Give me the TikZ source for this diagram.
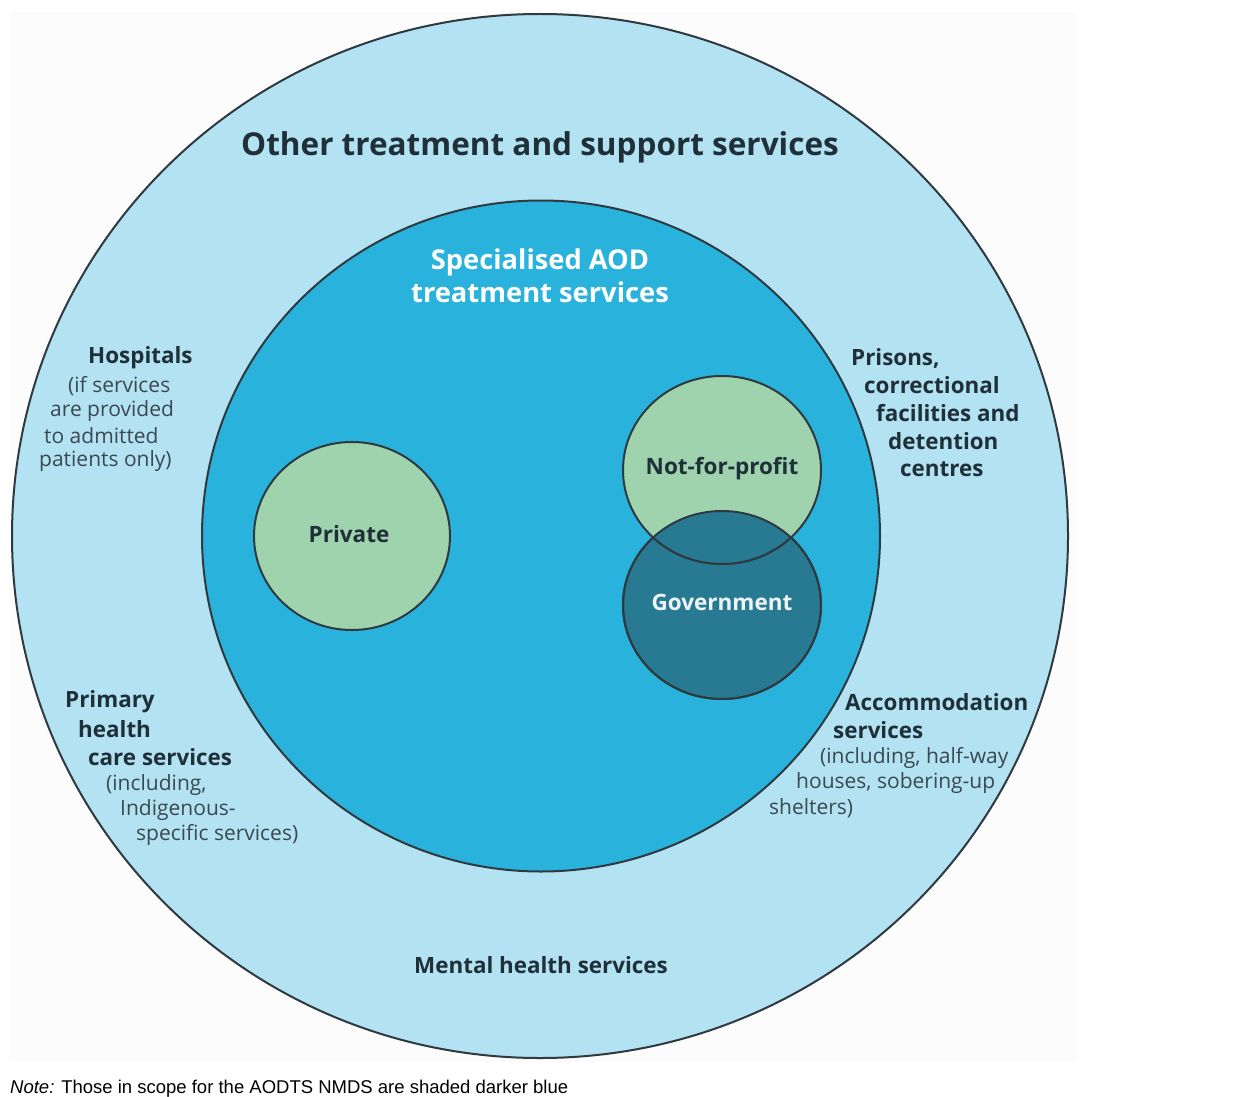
\documentclass[tikz,border=0pt]{standalone}
\usepackage{fontspec}
\usetikzlibrary{shapes.geometric}
\setmainfont{Open Sans}
\newfontfamily\notefont{Liberation Sans}
\definecolor{outerblue}{HTML}{B3E2F3}
\definecolor{innerblue}{HTML}{29B2DB}
\definecolor{softgreen}{HTML}{9ED3AE}
\definecolor{govblue}{HTML}{277A92}
\definecolor{txtdark}{HTML}{1F3038}
\definecolor{rimgray}{HTML}{2E3A40}
\definecolor{panel}{HTML}{FCFCFC}
\begin{document}
\begin{tikzpicture}[x=1pt,y=-1pt,
  ring/.style={draw=rimgray,line width=2pt,ellipse,inner sep=0pt},
  head/.style={anchor=west,inner sep=0pt,text=txtdark,font=\fontsize{22.4}{26}\selectfont\bfseries},
  sub/.style={anchor=west,inner sep=0pt,text=txtdark!88,font=\fontsize{21}{24}\selectfont},
  circlab/.style={inner sep=0pt,font=\fontsize{22.5}{26}\selectfont\bfseries}]
\useasboundingbox (0,0) rectangle (1237,1097);
\fill[panel] (10,12) rectangle (1076,1062);
% circles
\node[ring,fill=outerblue,minimum width=1056pt,minimum height=1044pt] (outer) at (540,536) {};
\node[ring,fill=innerblue,minimum width=678pt,minimum height=671pt] (inner) at (541,536) {};
\node[ring,fill=softgreen,minimum width=196pt,minimum height=188pt] (priv) at (352,536) {};
\node[ring,fill=govblue,minimum width=198pt,minimum height=188pt] (gov) at (722,605) {};
\node[ring,fill=softgreen,minimum width=198pt,minimum height=188pt] (nfp) at (722,470) {};
\begin{scope}
\clip (722,605) ellipse (99 and 94);
\fill[govblue] (722,470) ellipse (99 and 94);
\draw[rimgray,line width=2pt] (722,470) ellipse (99 and 94);
\end{scope}
\draw[rimgray,line width=2pt] (722,605) ellipse (99 and 94);
% titles
\node[inner sep=0pt,text=txtdark,font=\fontsize{31.5}{34}\selectfont\bfseries] (title) at (540,147) {Other treatment and support services};
\node[inner sep=0pt,text=white,font=\fontsize{27.3}{33}\selectfont\bfseries,align=center] (aod) at (540,276) {Specialised AOD\\treatment services};
\node[circlab,text=txtdark] (privl) at (349,534) {Private};
\node[circlab,text=txtdark] (nfpl) at (722,469) {Not-for-profit};
\node[circlab,text=white!92!govblue] (govl) at (722,602) {Government};
% left top
\node[head] (h1) at (88,358) {Hospitals};
\node[sub] (h2) at (68,386) {(if services};
\node[sub] (h3) at (50,411) {are provided};
\node[sub] (h4) at (44,436) {to admitted};
\node[sub] (h5) at (39,461) {patients only)};
% left bottom
\node[head] (p1) at (65,702) {Primary};
\node[head] (p2) at (78,729) {health};
\node[head] (p3) at (88,757) {care services};
\node[sub] (p4) at (106,785) {(including,};
\node[sub] (p5) at (120,810) {Indigenous-};
\node[sub] (p6) at (136,835) {specific services)};
% right top
\node[head] (r1) at (851,358) {Prisons,};
\node[head] (r2) at (864,385) {correctional};
\node[head] (r3) at (876,413) {facilities and};
\node[head] (r4) at (888,441) {detention};
\node[head] (r5) at (900,469) {centres};
% right bottom
\node[head] (a1) at (845,702) {Accommodation};
\node[head] (a2) at (833,730) {services};
\node[sub] (a3) at (820,758) {(including, half-way};
\node[sub] (a4) at (796,783) {houses, sobering-up};
\node[sub] (a5) at (769,808) {shelters)};
% bottom
\node[head,anchor=center] (mh) at (541,965) {Mental health services};
% note
\node[anchor=base west,inner sep=0pt,font=\notefont\fontsize{18.5}{20}\selectfont] (note) at (10,1093) {\textit{Note:} Those in scope for the AODTS NMDS are shaded darker blue};
\end{tikzpicture}
\end{document}
